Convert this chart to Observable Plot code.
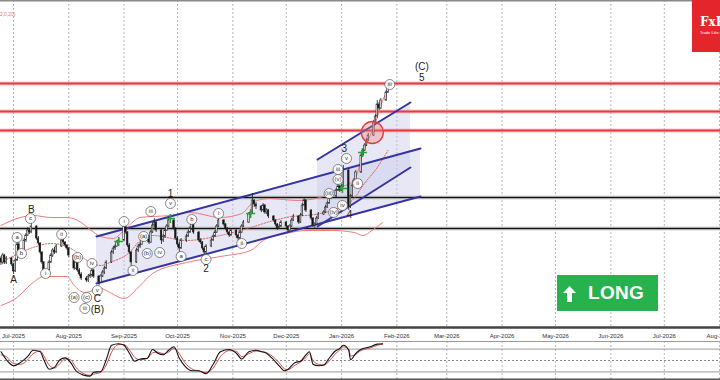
<!DOCTYPE html>
<html><head><meta charset="utf-8">
<script src="https://cdn.jsdelivr.net/npm/d3@7"></script>
<script src="https://cdn.jsdelivr.net/npm/@observablehq/plot@0.6"></script>
<style>
body{margin:0;background:#fff;font-family:"Liberation Sans",Arial,sans-serif}
#wrap{position:relative;width:720px;height:380px;overflow:hidden;background:#fff}
#main,#osc{position:absolute;left:0}
#main{top:0}#osc{top:340px}
.logo{position:absolute;left:692px;top:0;width:70px;height:52px;background:#e4262c;color:#fff}
.logo .fx{position:absolute;left:8px;top:16px;font:bold 12px/1 "DejaVu Serif","Liberation Serif",serif}
.logo .tl{position:absolute;left:8px;top:31px;font:4px/1 "Liberation Sans",Arial,sans-serif;white-space:nowrap}
.long{position:absolute;left:557px;top:275px;width:101px;height:36px;background:#27b24e;color:#fff}
.long svg{position:absolute;left:6px;top:11px}
.long span{position:absolute;left:31px;top:8px;font:bold 19px/20px "Liberation Sans",Arial,sans-serif;letter-spacing:0.3px}
</style></head><body>
<div id="wrap">
<div id="main"></div><div id="osc"></div>
<div class="logo"><div class="fx">FxPro</div><div class="tl">Trade Like a Pro</div></div>
<div class="long"><svg width="13" height="16" viewBox="0 0 13 16"><polygon points="6.5,0 13,7 9,7 9,16 4,16 4,7 0,7" fill="#fff"/></svg><span>LONG</span></div>
</div>
<script>
// ---------- data ----------
const monthTicks = ["2025-07-01","2025-08-01","2025-09-01","2025-10-01","2025-11-01","2025-12-01","2026-01-01","2026-02-01","2026-03-01","2026-04-01","2026-05-01","2026-06-01","2026-07-01","2026-08-01"];
const monthLabels = ["Jul-2025","Aug-2025","Sep-2025","Oct-2025","Nov-2025","Dec-2025","Jan-2026","Feb-2026","Mar-2026","Apr-2026","May-2026","Jun-2026","Jul-2026","Aug-2026"];

const candleOpen = [70,72,68,75,68, 72,66,59,70,86, 80,90,95,100,98, 104,92,87,78,68, 60,68,75,80,78, 84,90,88,85,82, 75,62,68,60,56, 52,50,54,55,60, 54,48,54,58,62, 68,78,82,84,88, 90,104,98,85,78, 68,80,84,86,90, 94,88,98,105,108, 100,90,94,100,104, 110,102,92,86,82, 90,94,98,102,106, 98,90,88,82,78, 84,90,94,98,104, 110,106,102,98,95, 100,95,92,98,104, 108,116,118,130,126, 124,120,125,118,120, 114,110,106,102,104, 108,104,100,104,110, 114,108,115,125,130, 120,112,105,106,112, 116,118,123,127,132, 134,140,144,140,144, 160,124,134,145,150, 158,175,180,185,190, 195,208,214,226,222, 230,238,244];
const candleHigh = [75,74,77,76,74, 73,67,72,88,88, 92,97,103,102,107, 105,94,88,79,69, 70,77,82,83,86, 93,92,89,86,83, 76,71,69,62,58, 54,56,57,62,61, 55,56,60,64,70, 80,84,86,90,93, 107,106,99,87,79, 82,86,88,92,96, 95,100,108,112,109, 101,96,102,106,113, 111,103,94,88,92, 96,100,104,110,107, 99,92,89,84,86, 92,96,100,106,114, 111,107,103,99,102, 101,96,100,106,110, 118,121,137,131,128, 125,127,126,122,121, 115,111,107,106,110, 109,105,106,112,116, 115,117,127,133,131, 121,113,108,114,118, 120,125,129,134,137, 142,147,145,146,165, 162,136,147,152,160, 177,182,187,192,197, 210,216,230,228,232, 240,246,247];
const candleLow = [67,65,66,66,66, 64,56,58,69,78, 79,88,94,96,97, 90,85,76,66,57, 58,67,73,76,77, 83,86,83,80,73, 60,61,58,54,50, 48,48,52,53,52, 45,47,53,56,61, 67,76,80,83,87, 89,96,83,76,64, 67,78,82,85,88, 86,87,97,103,98, 86,88,92,99,103, 100,90,83,78,81, 88,93,97,100,96, 88,86,80,74,77, 83,89,93,97,103, 104,100,96,93,94, 92,90,91,97,103, 107,115,117,123,121, 118,119,116,116,112, 108,104,100,101,103, 102,98,99,103,109, 106,107,114,124,118, 110,103,101,105,111, 115,117,122,126,131, 133,139,138,139,143, 120,122,133,144,149, 157,174,179,184,189, 194,207,212,220,221, 229,237,242];
const candleClose = [72,68,75,68,72, 66,59,70,86,80, 90,95,100,98,104, 92,87,78,68,60, 68,75,80,78,84, 90,88,85,82,75, 62,68,60,56,52, 50,54,55,60,54, 48,54,58,62,68, 78,82,84,88,90, 104,98,85,78,68, 80,84,86,90,94, 88,98,105,108,100, 90,94,100,104,110, 102,92,86,82,90, 94,98,102,106,98, 90,88,82,78,84, 90,94,98,104,110, 106,102,98,95,100, 95,92,98,104,108, 116,118,130,126,124, 120,125,118,120,114, 110,106,102,104,108, 104,100,104,110,114, 108,115,125,130,120, 112,105,106,112,116, 118,123,127,132,134, 140,144,140,144,160, 124,134,145,150,158, 175,180,185,190,195, 208,214,226,222,230, 238,244,245];

const bandUpperDates = ["2025-06-24","2025-07-03","2025-07-12","2025-07-22","2025-07-31","2025-08-08","2025-08-13","2025-08-19","2025-08-26","2025-09-02","2025-09-10","2025-09-17","2025-09-27","2025-10-08","2025-10-25","2025-11-06","2025-11-13","2025-11-22","2025-12-07","2025-12-20","2025-12-31","2026-01-08","2026-01-13","2026-01-21","2026-01-24","2026-01-27"];
const bandUpper = [105,112,115,113,113,108,101,94,92,102,113,114,115,118,113,117,129,132,130,133,143,150,177,213,230,240];
const bandMidDates = ["2025-06-24","2025-07-12","2025-07-22","2025-07-31","2025-08-04","2025-08-13","2025-08-19","2025-08-24","2025-09-04","2025-09-10","2025-09-17","2025-10-06","2025-10-25","2025-11-11","2025-11-22","2025-12-01","2025-12-20","2025-12-31","2026-01-08","2026-01-13","2026-01-21","2026-01-27"];
const bandMid = [68,83,87,84,80,68,65,68,78,90,95,90,95,103,109,113,117,123,132,145,163,180];
const bandLowerDates = ["2025-06-24","2025-07-03","2025-07-12","2025-07-18","2025-07-31","2025-08-04","2025-08-10","2025-08-19","2025-08-24","2025-09-01","2025-09-10","2025-09-17","2025-10-06","2025-10-25","2025-11-11","2025-11-18","2025-12-01","2025-12-12","2025-12-27","2026-01-08","2026-01-13","2026-01-18","2026-01-24"];
const bandLower = [25,33,48,54,54,45,38,42,38,32,45,57,68,74,80,90,97,100,100,98,95,100,108];

const redLevels = [247,219,200];
const blackLevels = [133,102];

const chanADates = ["2025-08-16T13:00Z","2026-02-14T06:00Z"];
const chanAUpper = [94,182];
const chanALower = [47,134];
const chanBDates = ["2025-12-18T12:00Z","2026-02-08T15:00Z"];
const chanBUpper = [171,228];
const chanBLower = [104,163];

const waveText = ["A","B","C","(B)","1","2","3","4","(C)","5"];
const waveDates = ["2025-07-01","2025-07-11","2025-08-17","2025-08-17","2025-09-27","2025-10-17","2026-01-02T12:00Z","2026-01-05T10:00Z","2026-02-15","2026-02-15"];
const wavePrices = [51,121,32,21,137,62,182,116,264,253];

const subText = ["a","b","c","i","ii","(b)","(a)","(c)","iii","iv","v","i","ii","(a)","(b)","iii","iv","v","a","b","c","i","ii","(iii)","(iv)","(v)","iii","iv","v","ii","iii"];
const subDates = ["2025-07-03","2025-07-05T12:00Z","2025-07-10T12:00Z","2025-07-19","2025-07-28","2025-08-06","2025-08-04","2025-08-11","2025-08-10","2025-08-14","2025-08-17","2025-09-01","2025-09-06","2025-09-12","2025-09-14","2025-09-16","2025-09-21","2025-09-27","2025-10-03","2025-10-09","2025-10-17","2025-10-24","2025-11-06","2025-12-25","2025-12-27T12:00Z","2025-12-30","2025-12-30","2026-01-01T12:00Z","2026-01-03T18:00Z","2026-01-10","2026-01-28"];
const subPrices = [93,77,112,57,96,73,33,33,22,67,40,109,60,94,77,119,78,127,74,111,71,117,87,137,118,151,161,125,172,147,246];

const crossDates = ["2025-08-29","2025-09-27","2025-11-11","2026-01-01T12:00Z","2026-01-12T18:00Z"];
const crossPrices = [89,112,117,142,178];
const ringDates = ["2026-01-18T06:00Z"];
const ringPrices = [198];

const stochDates = ["2025-06-24","2025-06-27","2025-07-01","2025-07-05","2025-07-09","2025-07-12","2025-07-16","2025-07-18","2025-07-21","2025-07-24","2025-07-27","2025-07-30","2025-08-02","2025-08-05","2025-08-09","2025-08-13","2025-08-15","2025-08-19","2025-08-22","2025-08-25","2025-08-29","2025-09-01","2025-09-04","2025-09-07","2025-09-10","2025-09-14","2025-09-17","2025-09-20","2025-09-23","2025-09-26","2025-09-29","2025-10-02","2025-10-05","2025-10-09","2025-10-13","2025-10-17","2025-10-21","2025-10-25","2025-10-30","2025-11-03","2025-11-06","2025-11-10","2025-11-14","2025-11-17","2025-11-19","2025-11-23","2025-11-27","2025-11-30","2025-12-02","2025-12-06","2025-12-09","2025-12-12","2025-12-14","2025-12-16","2025-12-19","2025-12-22","2025-12-25","2025-12-28","2025-12-31","2026-01-02","2026-01-05","2026-01-06","2026-01-09","2026-01-11","2026-01-17","2026-01-21","2026-01-24"];
const stochK = [73,52,36,45,61,77,73,52,27,32,52,57,45,23,12,9,19,21,52,90,94,90,69,48,54,56,79,69,65,77,86,56,36,23,23,15,40,73,79,69,54,73,77,73,71,56,36,23,27,45,48,65,73,40,36,38,56,73,82,90,77,52,69,77,86,93,94];
const stochD = [65,60,42,40,52,68,75,62,38,30,42,54,52,32,16,11,14,19,38,72,92,92,78,58,52,55,70,72,68,72,82,68,45,28,22,18,30,60,76,74,60,68,75,74,72,62,44,28,26,38,46,58,68,50,40,38,48,65,78,86,80,62,66,74,83,90,93];

// ---------- build ----------
const utc = s => new Date(s.length === 10 ? s + "T00:00Z" : s);
const xDomain = [new Date(Date.UTC(2025,5,23,17)), new Date(Date.UTC(2026,7,1,12))];
const labelMap = new Map(monthTicks.map((m,i)=>[m, monthLabels[i]]));
const months = monthTicks.map(utc);

const candleDates = d3.utcDays(new Date(Date.UTC(2025,5,23)), new Date(Date.UTC(2026,0,29)))
  .filter(d => d.getUTCDay() !== 0 && d.getUTCDay() !== 6);
const candles = candleClose.map((c,i)=>({date:candleDates[i], open:candleOpen[i], high:candleHigh[i], low:candleLow[i], close:c}));
const mk = (dates, vals) => vals.map((v,i)=>({date:utc(dates[i]), v}));
const upper = mk(bandUpperDates, bandUpper), mid = mk(bandMidDates, bandMid), lower = mk(bandLowerDates, bandLower);
const chanA = chanADates.map((d,i)=>({date:utc(d), hi:chanAUpper[i], lo:chanALower[i]}));
const chanB = chanBDates.map((d,i)=>({date:utc(d), hi:chanBUpper[i], lo:chanBLower[i]}));
const waves = waveText.map((t,i)=>({t, date:utc(waveDates[i]), p:wavePrices[i]}));
const subs = subText.map((t,i)=>({t, date:utc(subDates[i]), p:subPrices[i]}));
const crosses = mk(crossDates, crossPrices);
const ring = mk(ringDates, ringPrices);
const stoch = stochK.map((k,i)=>({date:utc(stochDates[i]), k, d:stochD[i]}));

const font = '"Liberation Sans", Arial, sans-serif';
const main = Plot.plot({
  width:720, height:340, marginLeft:0, marginRight:0, marginTop:0, marginBottom:13,
  x:{type:"utc", domain:xDomain, axis:null},
  y:{domain:[3,330], axis:null},
  style:{background:"transparent", fontFamily:font, overflow:"hidden"},
  marks:[
    Plot.ruleX(months, {stroke:"#b5b5b5", strokeDasharray:"2,2", strokeWidth:1}),
    Plot.areaY(chanA, {x:"date", y1:"lo", y2:"hi", fill:"#c9c9ea", fillOpacity:0.45, curve:"linear"}),
    Plot.areaY(chanB, {x:"date", y1:"lo", y2:"hi", fill:"#c9c9ea", fillOpacity:0.45, curve:"linear"}),
    Plot.ruleY(redLevels, {stroke:"#f3a3a3", strokeWidth:4, strokeOpacity:0.6}),
    Plot.ruleY(redLevels, {stroke:"#e8393f", strokeWidth:1.8}),
    Plot.ruleY(blackLevels, {stroke:"#aaaaaa", strokeWidth:3.5}),
    Plot.ruleY(blackLevels, {stroke:"#111", strokeWidth:1.2}),
    Plot.ruleY([330], {stroke:"#8a8a8a", strokeWidth:2}),
    Plot.ruleY([3], {stroke:"#444", strokeWidth:2.5}),
    Plot.line(upper, {x:"date", y:"v", stroke:"#f07a7a", strokeWidth:1, curve:"monotone-x"}),
    Plot.line(lower, {x:"date", y:"v", stroke:"#f07a7a", strokeWidth:1, curve:"monotone-x"}),
    Plot.line(mid, {x:"date", y:"v", stroke:"#e05555", strokeWidth:0.9, strokeDasharray:"1.5,1.5", curve:"monotone-x"}),
    Plot.line(chanA, {x:"date", y:"hi", stroke:"#3333a3", strokeWidth:2}),
    Plot.line(chanA, {x:"date", y:"lo", stroke:"#3333a3", strokeWidth:2}),
    Plot.line(chanB, {x:"date", y:"hi", stroke:"#3333a3", strokeWidth:2}),
    Plot.line(chanB, {x:"date", y:"lo", stroke:"#3333a3", strokeWidth:2}),
    Plot.ruleX(candles, {x:"date", y1:"low", y2:"high", stroke:"#222", strokeWidth:0.8}),
    Plot.rect(candles, {x1:d=>d3.utcHour.offset(d.date,-10), x2:d=>d3.utcHour.offset(d.date,10), y1:"open", y2:"close",
      fill:d=>d.close>=d.open?"#fff":"#111", stroke:"#222", strokeWidth:0.6}),
    Plot.dot(ring, {x:"date", y:"v", r:11, fill:"#f08080", fillOpacity:0.35, stroke:"#e83a3a", strokeWidth:1.3}),
    Plot.dot(crosses, {x:"date", y:"v", symbol:"plus", r:3, fill:"#2e9e3a", stroke:"#2e9e3a"}),
    Plot.dot(subs, {x:"date", y:"p", r:5, fill:"#fff", fillOpacity:0.9, stroke:"#555", strokeWidth:0.7}),
    Plot.text(subs, {x:"date", y:"p", text:"t", fontSize:6, fill:"#333"}),
    Plot.text(waves, {x:"date", y:"p", text:"t", fontSize:10, fill:"#222"}),
    Plot.text(["BB(2,0,20)"], {frameAnchor:"top-left", dx:15, dy:12, textAnchor:"end", fontSize:5, fill:"#e77"}),
    Plot.text(months, {x:d=>d, frameAnchor:"bottom", dy:10, text:d=>labelMap.get(d.toISOString().slice(0,10)), fontSize:6, fill:"#333"})
  ]
});
document.getElementById("main").appendChild(main);

const osc = Plot.plot({
  width:720, height:40, marginLeft:0, marginRight:0, marginTop:1, marginBottom:1,
  x:{type:"utc", domain:xDomain, axis:null},
  y:{domain:[0,100], axis:null},
  style:{background:"transparent", fontFamily:font, overflow:"hidden"},
  marks:[
    Plot.ruleX(months, {stroke:"#b5b5b5", strokeDasharray:"2,2"}),
    Plot.ruleY([100,80,20], {stroke:"#9a9a9a", strokeWidth:1}),
    Plot.ruleY([50], {stroke:"#8a8a8a", strokeDasharray:"2,2"}),
    Plot.ruleY([0], {stroke:"#555", strokeWidth:2}),
    Plot.line(stoch, {x:"date", y:"d", stroke:"#d24b4b", strokeWidth:1, curve:"monotone-x"}),
    Plot.line(stoch, {x:"date", y:"k", stroke:"#111", strokeWidth:1.1, curve:"monotone-x"})
  ]
});
document.getElementById("osc").appendChild(osc);
</script>
</body></html>
